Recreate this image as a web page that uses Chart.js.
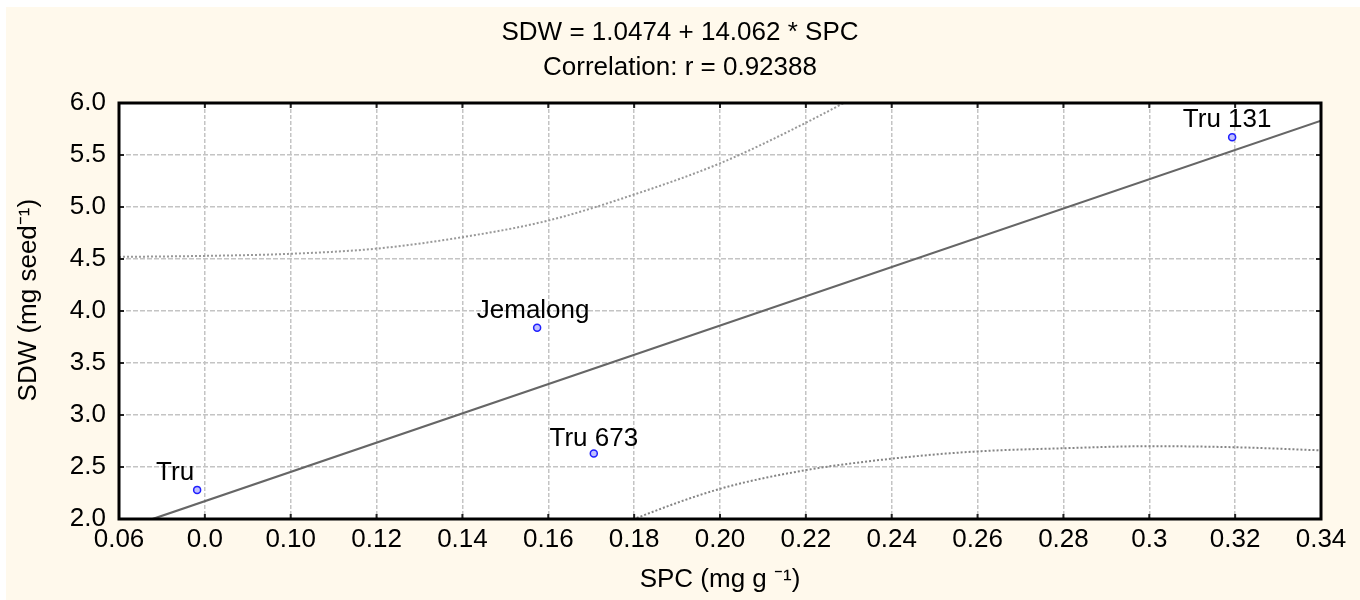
<!DOCTYPE html>
<html>
<head>
<meta charset="utf-8">
<script src="https://cdn.jsdelivr.net/npm/chart.js@4"></script>
<style>
  body { margin: 0; background: #fff9ec; overflow: hidden; }
  canvas { display: block; }
</style>
</head>
<body>
<canvas id="scatter" width="1360" height="600"></canvas>
<script>
// tick labels as printed on the figure
const xTickLabels = ['0.06', '0.0', '0.10', '0.12', '0.14', '0.16', '0.18', '0.20',
                     '0.22', '0.24', '0.26', '0.28', '0.3', '0.32', '0.34'];

// genotypes
const pointNames = ['Tru', 'Jemalong', 'Tru 673', 'Tru 131'];
const pointSPC = [0.0782, 0.1574, 0.1706, 0.3193];
const pointSDW = [2.28, 3.84, 2.63, 5.67];

// fitted line
const fitSPC = [0.06, 0.34];
const fitSDW = [1.89, 5.83];

// upper / lower bands
const upperSPC = [0.06, 0.08, 0.10, 0.12, 0.14, 0.16, 0.18, 0.20, 0.22, 0.24];
const upperSDW = [4.52, 4.53, 4.55, 4.60, 4.71, 4.87, 5.12, 5.42, 5.81, 6.25];
const lowerSPC = [0.16, 0.18, 0.20, 0.22, 0.24, 0.26, 0.28, 0.30, 0.32, 0.34];
const lowerSDW = [1.65, 2.00, 2.29, 2.47, 2.58, 2.65, 2.68, 2.70, 2.69, 2.66];

const FONT = "'Liberation Sans', Arial, sans-serif";

function pairs(xs, ys) {
    return xs.map((x, i) => ({ x: x, y: ys[i] }));
}

const framePlugin = {
    id: 'frame',
    beforeDraw(chart) {
        const { ctx, chartArea: a } = chart;
        ctx.save();
        ctx.fillStyle = '#fff9ec';
        ctx.fillRect(0, 0, chart.width, chart.height);
        ctx.fillStyle = '#ffffff';
        ctx.fillRect(0, 0, chart.width, 7);
        ctx.fillRect(0, 0, 6, chart.height);
        ctx.fillRect(a.left, a.top, a.right - a.left, a.bottom - a.top);
        ctx.restore();
    },
    afterDraw(chart) {
        const { ctx, chartArea: a } = chart;
        const xs = chart.scales.x, ys = chart.scales.y;
        ctx.save();
        // small inward ticks
        ctx.strokeStyle = '#222';
        ctx.lineWidth = 2;
        ctx.beginPath();
        xs.ticks.forEach(t => {
            const px = xs.getPixelForValue(t.value);
            ctx.moveTo(px, a.bottom); ctx.lineTo(px, a.bottom - 5);
            ctx.moveTo(px, a.top); ctx.lineTo(px, a.top + 5);
        });
        ys.ticks.forEach(t => {
            const py = ys.getPixelForValue(t.value);
            ctx.moveTo(a.left, py); ctx.lineTo(a.left + 5, py);
            ctx.moveTo(a.right, py); ctx.lineTo(a.right - 5, py);
        });
        ctx.stroke();
        // frame
        ctx.strokeStyle = '#000';
        ctx.lineWidth = 3;
        ctx.strokeRect(a.left, a.top, a.right - a.left, a.bottom - a.top);
        ctx.restore();
    }
};

const labelPlugin = {
    id: 'pointNames',
    afterDatasetsDraw(chart, args, opts) {
        const { ctx } = chart;
        const meta = chart.getDatasetMeta(0);
        ctx.save();
        ctx.font = '26px ' + FONT;
        ctx.fillStyle = '#000';
        ctx.textAlign = 'center';
        ctx.textBaseline = 'alphabetic';
        meta.data.forEach((el, i) => {
            ctx.fillText(pointNames[i], el.x + opts.dx[i], el.y - opts.dy[i]);
        });
        ctx.restore();
    }
};

const data = {
    datasets: [
        {
            label: 'SDW',
            data: pairs(pointSPC, pointSDW),
            pointRadius: 3.5,
            pointBorderWidth: 1.5,
            borderColor: '#1f1fff',
            backgroundColor: 'rgba(150,150,255,0.6)'
        },
        {
            label: 'fit',
            data: pairs(fitSPC, fitSDW),
            showLine: true,
            pointRadius: 0,
            borderColor: '#666666',
            borderWidth: 2.2
        },
        {
            label: 'upper',
            data: pairs(upperSPC, upperSDW),
            showLine: true,
            pointRadius: 0,
            borderColor: '#999999',
            borderWidth: 2,
            borderDash: [2, 2],
            cubicInterpolationMode: 'monotone'
        },
        {
            label: 'lower',
            data: pairs(lowerSPC, lowerSDW),
            showLine: true,
            pointRadius: 0,
            borderColor: '#858585',
            borderWidth: 2,
            borderDash: [2, 2],
            cubicInterpolationMode: 'monotone'
        }
    ]
};

const config = {
    type: 'scatter',
    data: data,
    options: {
        responsive: false,
        animation: false,
        layout: { padding: 0 },
        plugins: {
            legend: { display: false },
            tooltip: { enabled: false },
            title: {
                display: true,
                text: ['SDW = 1.0474 + 14.062 * SPC', 'Correlation: r = 0.92388'],
                color: '#000',
                font: { family: FONT, size: 26, weight: 'normal', lineHeight: 35 / 26 },
                padding: { top: 15.5, bottom: 17.5 }
            },
            pointNames: { dx: [-22, -4, 0, -5], dy: [10, 10, 7, 10] }
        },
        scales: {
            x: {
                type: 'linear',
                min: 0.06,
                max: 0.34,
                afterFit: s => { s.height = 81; },
                grid: { color: '#c4c4c4', lineWidth: 1.5, drawTicks: false },
                border: { display: false, dash: [4, 2] },
                ticks: {
                    stepSize: 0.02,
                    autoSkip: false,
                    maxRotation: 0,
                    padding: 5,
                    color: '#000',
                    font: { family: FONT, size: 26 },
                    callback: (v, i) => xTickLabels[i]
                },
                title: {
                    display: true,
                    text: 'SPC (mg g \u207B\u00B9)',
                    color: '#000',
                    font: { family: FONT, size: 26 },
                    padding: { top: 0, bottom: 5 }
                }
            },
            y: {
                type: 'linear',
                min: 2,
                max: 6,
                afterFit: s => { s.width = 119; },
                grid: { color: '#c4c4c4', lineWidth: 1.5, drawTicks: false },
                border: { display: false, dash: [5, 2] },
                ticks: {
                    stepSize: 0.5,
                    padding: 13,
                    color: '#000',
                    font: { family: FONT, size: 26 },
                    callback: v => v.toFixed(1)
                },
                title: {
                    display: true,
                    text: '   SDW (mg seed\u207B\u00B9)',
                    color: '#000',
                    font: { family: FONT, size: 26 },
                    padding: { top: 13, bottom: 0 }
                }
            },
            yRight: {
                type: 'linear',
                position: 'right',
                min: 2,
                max: 6,
                afterFit: s => { s.width = 39; },
                grid: { display: false },
                border: { display: false },
                ticks: { display: false }
            }
        }
    },
    plugins: [framePlugin, labelPlugin]
};

const myChart = new Chart(document.getElementById('scatter'), config);
</script>
</body>
</html>
